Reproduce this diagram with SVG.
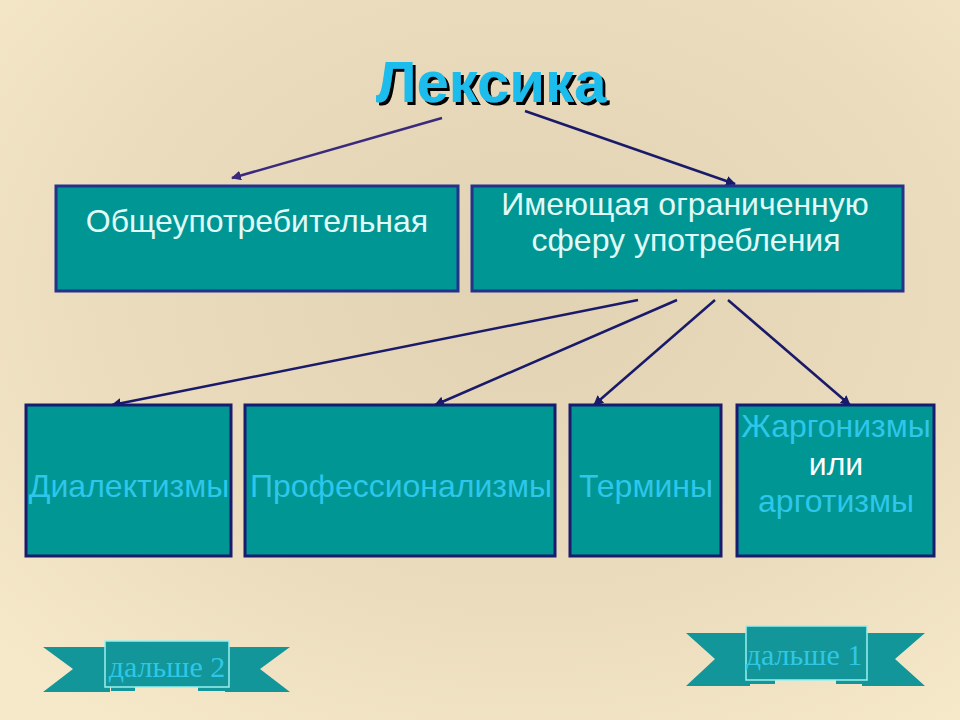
<svg xmlns="http://www.w3.org/2000/svg" width="960" height="720" viewBox="0 0 960 720">
<defs>
<radialGradient id="bg" cx="0.55" cy="0.4" r="0.75">
<stop offset="0" stop-color="#e0d2b2"/>
<stop offset="0.6" stop-color="#eadcbc"/>
<stop offset="1" stop-color="#f6e9c9"/>
</radialGradient>
<filter id="sh" x="-10%" y="-20%" width="130%" height="150%">
<feDropShadow dx="3" dy="3" stdDeviation="0.6" flood-color="#000" flood-opacity="1"/>
</filter>
<marker id="ah" viewBox="0 0 10 10" refX="9" refY="5" markerWidth="4" markerHeight="4" orient="auto" markerUnits="strokeWidth">
<path d="M0,0 L10,5 L0,10 Z" fill="#1a1a6a"/>
</marker>
<marker id="ah2" viewBox="0 0 10 10" refX="9" refY="5" markerWidth="4" markerHeight="4" orient="auto" markerUnits="strokeWidth">
<path d="M0,0 L10,5 L0,10 Z" fill="#3a2a7e"/>
</marker>
</defs>
<style>
.box{fill:#009694;stroke:#1a1a6e;stroke-width:3}
.tbox{fill:#009694;stroke:#23328a;stroke-width:3}
.t{font-family:"Liberation Sans",Arial,sans-serif;font-size:32px;text-anchor:middle}
.light{fill:#e0fbf8}
.blue{fill:#2ec6ea}
.white{fill:#ffffff}
.conn{stroke:#1a1a6a;stroke-width:2.5;fill:none}
.rib{fill:#12969a}
.ribc{fill:#12969a;stroke:#9af0f0;stroke-width:1.5}
.rt{font-family:"Liberation Serif","Times New Roman",serif;font-size:30px;fill:#2ec8e6;text-anchor:middle}
</style>
<rect width="960" height="720" fill="url(#bg)"/>

<g id="title">
<text x="491" y="102" font-family="Liberation Sans,Arial,sans-serif" font-size="58" font-weight="bold" text-anchor="middle" fill="#1ebcec" filter="url(#sh)">Лексика</text>
</g>

<g id="connectors">
<line x1="442" y1="118" x2="232" y2="178" stroke="#3a2a7e" stroke-width="2.5" marker-end="url(#ah2)"/>
<line class="conn" x1="525" y1="111" x2="735" y2="184" marker-end="url(#ah)"/>
<line class="conn" x1="638" y1="300" x2="112" y2="405" marker-end="url(#ah)"/>
<line class="conn" x1="677" y1="300" x2="435" y2="405" marker-end="url(#ah)"/>
<line class="conn" x1="715" y1="300" x2="594" y2="405" marker-end="url(#ah)"/>
<line class="conn" x1="728" y1="300" x2="850" y2="405" marker-end="url(#ah)"/>
</g>

<g id="n-common">
<rect class="tbox" x="56" y="186" width="402" height="105"/>
<text class="t light" x="257" y="232">Общеупотребительная</text>
</g>
<g id="n-restricted">
<rect class="tbox" x="472" y="186" width="431" height="105"/>
<text class="t light" x="685" y="215">Имеющая ограниченную</text>
<text class="t light" x="686" y="251">сферу употребления</text>
</g>

<g id="n-dialect">
<rect class="box" x="26" y="405" width="205" height="151"/>
<text class="t blue" x="129" y="497">Диалектизмы</text>
</g>
<g id="n-prof">
<rect class="box" x="245" y="405" width="310" height="151"/>
<text class="t blue" x="401" y="497">Профессионализмы</text>
</g>
<g id="n-term">
<rect class="box" x="570" y="405" width="151" height="151"/>
<text class="t blue" x="646" y="497">Термины</text>
</g>
<g id="n-jargon">
<rect class="box" x="737" y="405" width="197" height="151"/>
<text class="t blue" x="836" y="437">Жаргонизмы</text>
<text class="t white" x="836" y="475">или</text>
<text class="t blue" x="836" y="512">арготизмы</text>
</g>

<g id="btn-next2">
<polygon class="rib" points="43,647 110,647 110,692 43,692 73,669"/>
<polygon class="rib" points="290,647 225,647 225,692 290,692 260,669"/>
<rect class="rib" x="111" y="686" width="24" height="5"/>
<rect class="rib" x="198" y="686" width="30" height="5"/>
<rect class="ribc" x="105" y="641" width="124" height="46"/>
<text class="rt" x="167" y="677">дальше 2</text>
</g>
<g id="btn-next1">
<polygon class="rib" points="686,633 750,633 750,686 686,686 715,659"/>
<polygon class="rib" points="925,633 862,633 862,686 925,686 895,659"/>
<rect class="rib" x="750" y="679" width="25" height="5"/>
<rect class="rib" x="836" y="679" width="26" height="5"/>
<rect class="ribc" x="746" y="626" width="121" height="54"/>
<text class="rt" x="804" y="665">дальше 1</text>
</g>
</svg>
